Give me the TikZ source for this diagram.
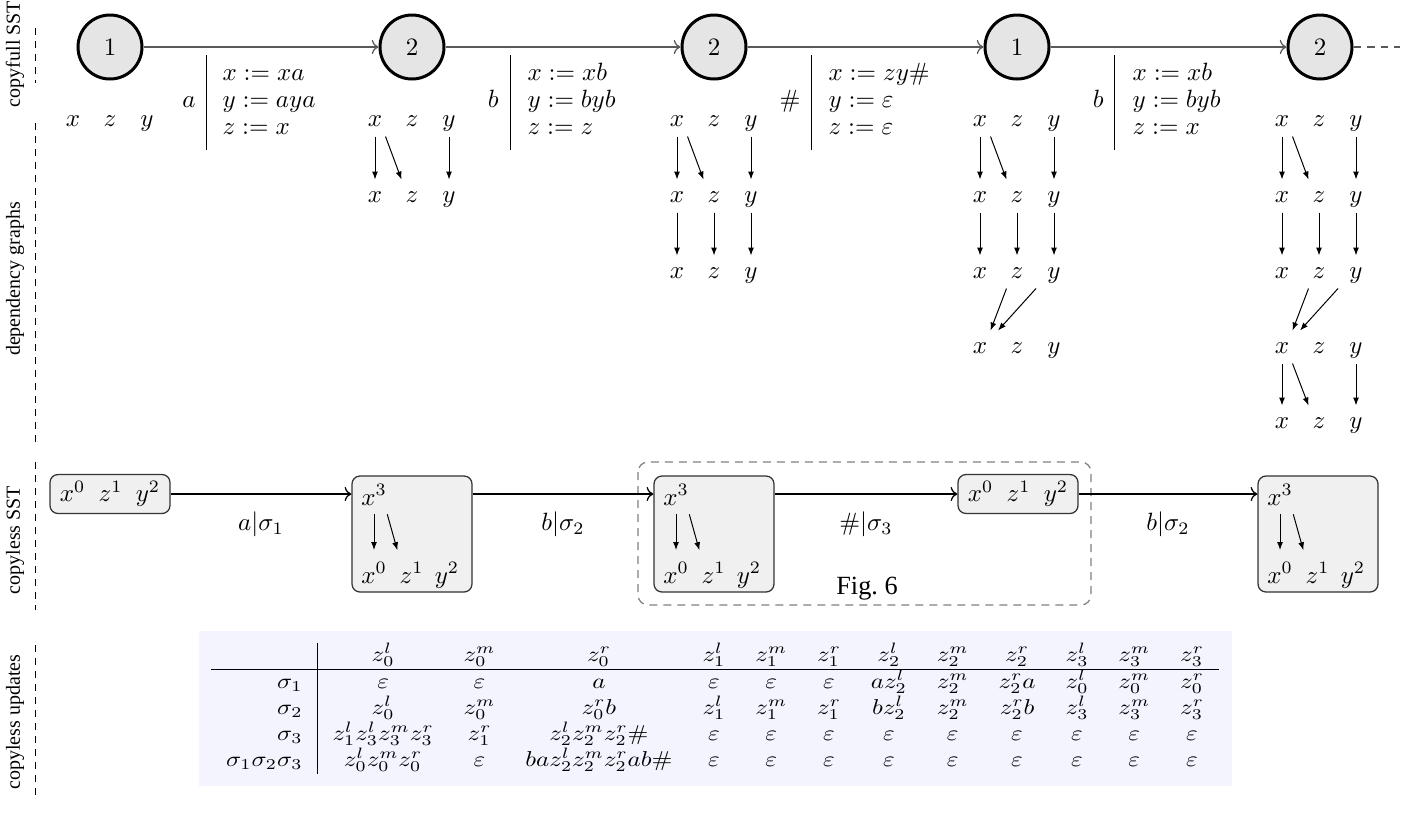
\documentclass[tikz,border=0pt]{standalone}
\usepackage{graphicx}
\usepackage{fontspec}
\newfontfamily\timesf{Liberation Serif}
\usetikzlibrary{arrows.meta,calc}
\definecolor{tablebg}{RGB}{243,244,253}
\newcommand\vrow[3]{% prefix, centre x, y
  \node[var] (#1x) at (#2-37,#3) {$x$};
  \node[var] (#1z) at (#2,#3) {$z$};
  \node[var] (#1y) at (#2+37,#3) {$y$};}
\newcommand\Aedges[2]{%
  \draw[dep] (#1x) -- (#2x);
  \draw[dep] (#1x.south east) -- (#2z.north west);
  \draw[dep] (#1y) -- (#2y);}
\newcommand\Iedges[2]{%
  \draw[dep] (#1x) -- (#2x);
  \draw[dep] (#1z) -- (#2z);
  \draw[dep] (#1y) -- (#2y);}
\newcommand\Hedges[2]{%
  \draw[dep] (#1z.south west) -- (#2x.north east);
  \draw[dep] ([xshift=-3pt]#1y.south west) -- ([xshift=3pt]#2x.north east);}
\newcommand\tallin[2]{% prefix, centre x
  \node[cv, anchor=base] (#1t) at (#2-38,505) {$x^3$};
  \node[cv, anchor=base] (#1x) at (#2-38,583) {$x^0$};
  \node[cv, anchor=base] (#1z) at (#2-0.5,583) {$z^1$};
  \node[cv, anchor=base] (#1y) at (#2+35,583) {$y^2$};
  \draw[cdep] (#1t.south) -- (#1x.north);
  \draw[cdep] (#1t.south east) -- (#1z.north west);}
\begin{document}
\begin{tikzpicture}[x=0.4pt,y=-0.4pt,
  state/.style={circle, draw=black, line width=1.2pt, fill=black!10, minimum size=25.6pt, inner sep=0pt},
  tarr/.style={draw=black!65, line width=0.5pt, -To},
  var/.style={inner sep=0pt, minimum width=8pt, minimum height=12.8pt, text height=1.5ex, text depth=.3ex},
  dep/.style={-{Latex[length=3.2pt,width=2.4pt]}, line width=0.4pt},
  cdep/.style={dep, shorten >=2.5pt},
  lab/.style={inner sep=0pt},
  side/.style={rotate=90, font=\timesf\fontsize{8}{9.6}\selectfont, inner sep=0pt},
  sdash/.style={line width=0.4pt, dash pattern=on 2.8pt off 2.4pt},
  cbox/.style={draw=black!80, fill=black!6, rounded corners=3.2pt, line width=0.5pt, minimum width=48pt, inner sep=0pt},
  cv/.style={inner sep=0pt, text height=8pt, text depth=1pt, minimum height=14pt},
  carr/.style={-To, line width=0.5pt},
  clab/.style={midway, yshift=-12pt, inner sep=0pt},
]
\useasboundingbox (0,0) rectangle (1418,815);

% ---- side labels
\node[side] (L1) at (15,54) {copyfull SST};
\node[side] (L2) at (15,279) {dependency graphs};
\node[side] (L3) at (15,540) {copyless SST};
\node[side] (L4) at (15,722) {copyless updates};
\coordinate (d1a) at (35,28);  \coordinate (d1b) at (35,83);
\coordinate (d2a) at (35,123); \coordinate (d2b) at (35,445);
\coordinate (d3a) at (35,462); \coordinate (d3b) at (35,610);
\coordinate (d4a) at (35,645); \coordinate (d4b) at (35,800);
\draw[sdash] (d1a) -- (d1b);
\draw[sdash] (d2a) -- (d2b);
\draw[sdash] (d3a) -- (d3b);
\draw[sdash] (d4a) -- (d4b);

% ---- copyfull SST
\node[state] (q1) at (110,47) {$1$};
\node[state] (q2) at (412,47) {$2$};
\node[state] (q3) at (714,47) {$2$};
\node[state] (q4) at (1017,47) {$1$};
\node[state] (q5) at (1320,47) {$2$};
\draw[tarr] (q1) -- (q2);
\draw[tarr] (q2) -- (q3);
\draw[tarr] (q3) -- (q4);
\draw[tarr] (q4) -- (q5);
\coordinate (qend) at (1400,47);
\draw[draw=black!65, line width=0.5pt, dash pattern=on 3pt off 2.4pt] (q5) -- (qend);

% transition labels
\node[lab, anchor=base east] (s1) at (196,107) {$a$};
\draw[line width=0.4pt] (206,55) -- (206,150);
\node[lab, anchor=base west] (u1a) at (222,80) {$x := xa$};
\node[lab, anchor=base west] (u1b) at (222,107) {$y := aya$};
\node[lab, anchor=base west] (u1c) at (222,134) {$z := x$};

\node[lab, anchor=base east] (s2) at (499,107) {$b$};
\draw[line width=0.4pt] (510,55) -- (510,150);
\node[lab, anchor=base west] (u2a) at (527,80) {$x := xb$};
\node[lab, anchor=base west] (u2b) at (527,107) {$y := byb$};
\node[lab, anchor=base west] (u2c) at (527,134) {$z := z$};

\node[lab, anchor=base east] (s3) at (801,107) {$\#$};
\draw[line width=0.4pt] (811,55) -- (811,150);
\node[lab, anchor=base west] (u3a) at (828,80) {$x := zy\#$};
\node[lab, anchor=base west] (u3b) at (828,107) {$y := \varepsilon$};
\node[lab, anchor=base west] (u3c) at (828,134) {$z := \varepsilon$};

\node[lab, anchor=base east] (s4) at (1104,107) {$b$};
\draw[line width=0.4pt] (1114,55) -- (1114,150);
\node[lab, anchor=base west] (u4a) at (1132,80) {$x := xb$};
\node[lab, anchor=base west] (u4b) at (1132,107) {$y := byb$};
\node[lab, anchor=base west] (u4c) at (1132,134) {$z := x$};

% ---- dependency graphs
\vrow{a1}{110}{120}
\vrow{b1}{412}{120} \vrow{b2}{412}{196}
\Aedges{b1}{b2}
\vrow{c1}{714}{120} \vrow{c2}{714}{196} \vrow{c3}{714}{272}
\Aedges{c1}{c2} \Iedges{c2}{c3}
\vrow{d1}{1017}{120} \vrow{d2}{1017}{196} \vrow{d3}{1017}{272} \vrow{d4}{1017}{347}
\Aedges{d1}{d2} \Iedges{d2}{d3} \Hedges{d3}{d4}
\vrow{e1}{1319}{120} \vrow{e2}{1319}{196} \vrow{e3}{1319}{272} \vrow{e4}{1319}{347} \vrow{e5}{1319}{422}
\Aedges{e1}{e2} \Iedges{e2}{e3} \Hedges{e3}{e4} \Aedges{e4}{e5}

% ---- copyless SST
\draw[draw=black!50, line width=0.5pt, dash pattern=on 3.2pt off 2.4pt, rounded corners=4pt] (638,462) rectangle (1091,605);
\node[cbox, minimum height=15.6pt] (B1) at (110,494) {$x^0\hspace{5.3pt}z^1\hspace{5.3pt}y^2$};
\node[cbox, minimum height=46.4pt] (B2) at (412,534) {};
\node[cbox, minimum height=46.4pt] (B3) at (714,534) {};
\node[cbox, minimum height=15.6pt] (B4) at (1018,494) {$x^0\hspace{5.3pt}z^1\hspace{5.3pt}y^2$};
\node[cbox, minimum height=46.4pt] (B5) at (1318,534) {};
\tallin{P}{412}
\tallin{Q}{714}
\tallin{R}{1318}
\draw[carr] (B1) -- (B2.west |- B1.east) node[clab] {$a|\sigma_1$};
\draw[carr] (B2.east |- B1.east) -- (B3.west |- B1.east) node[clab] {$b|\sigma_2$};
\draw[carr] (B3.east |- B1.east) -- (B4) node[clab] {$\#|\sigma_3$};
\draw[carr] (B4) -- (B5.west |- B4.east) node[clab] {$b|\sigma_2$};
\node[inner sep=0pt] (fig) at (867,589) {\timesf\fontsize{10.5}{12}\selectfont Fig.~6};

% ---- copyless updates
\node[fill=tablebg, inner xsep=5pt, inner ysep=5pt, anchor=north] (T) at (715,630) {%
\scalebox{1}[0.86]{\begin{tabular}{r|cccccccccccc}
 & $z_0^l$ & $z_0^m$ & $z_0^r$ & $z_1^l$ & $z_1^m$ & $z_1^r$ & $z_2^l$ & $z_2^m$ & $z_2^r$ & $z_3^l$ & $z_3^m$ & $z_3^r$\\ \hline
$\sigma_1$ & $\varepsilon$ & $\varepsilon$ & $a$ & $\varepsilon$ & $\varepsilon$ & $\varepsilon$ & $az_2^l$ & $z_2^m$ & $z_2^ra$ & $z_0^l$ & $z_0^m$ & $z_0^r$\\
$\sigma_2$ & $z_0^l$ & $z_0^m$ & $z_0^rb$ & $z_1^l$ & $z_1^m$ & $z_1^r$ & $bz_2^l$ & $z_2^m$ & $z_2^rb$ & $z_3^l$ & $z_3^m$ & $z_3^r$\\
$\sigma_3$ & $z_1^lz_3^lz_3^mz_3^r$ & $z_1^r$ & $z_2^lz_2^mz_2^r\#$ & $\varepsilon$ & $\varepsilon$ & $\varepsilon$ & $\varepsilon$ & $\varepsilon$ & $\varepsilon$ & $\varepsilon$ & $\varepsilon$ & $\varepsilon$\\
$\sigma_1\sigma_2\sigma_3$ & $z_0^lz_0^mz_0^r$ & $\varepsilon$ & $baz_2^lz_2^mz_2^rab\#$ & $\varepsilon$ & $\varepsilon$ & $\varepsilon$ & $\varepsilon$ & $\varepsilon$ & $\varepsilon$ & $\varepsilon$ & $\varepsilon$ & $\varepsilon$
\end{tabular}}};
\end{tikzpicture}
\end{document}
